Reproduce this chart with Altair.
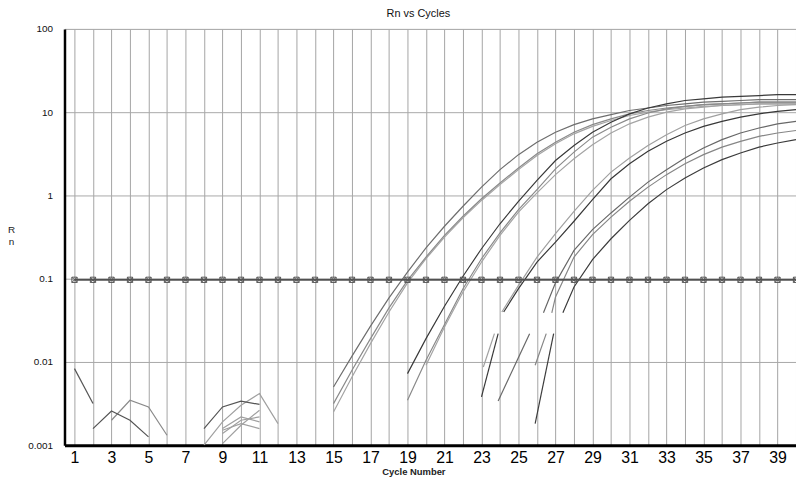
import altair as alt
import pandas as pd

# ---- data (log10 of Rn per cycle) ----
cyc_a = list(range(15, 41))
a1_log = [-2.30, -1.93, -1.57, -1.23, -0.92, -0.63, -0.37, -0.13, 0.10, 0.31, 0.49, 0.64, 0.76,
          0.85, 0.92, 0.97, 1.02, 1.05, 1.08, 1.10, 1.12, 1.13, 1.14, 1.15, 1.15, 1.15]
a2_log = [-2.50, -2.10, -1.72, -1.35, -1.02, -0.74, -0.48, -0.25, -0.04, 0.15, 0.33, 0.50, 0.64,
          0.76, 0.85, 0.92, 0.98, 1.02, 1.05, 1.07, 1.09, 1.10, 1.11, 1.12, 1.12, 1.12]
a3_log = [-2.60, -2.18, -1.78, -1.40, -1.05, -0.76, -0.50, -0.27, -0.06, 0.13, 0.31, 0.48, 0.62,
          0.74, 0.83, 0.90, 0.96, 1.00, 1.03, 1.05, 1.07, 1.08, 1.09, 1.10, 1.10, 1.10]

cyc_b12 = list(range(19, 41))
b1_log = [-2.14, -1.72, -1.33, -0.97, -0.64, -0.34, -0.07, 0.18, 0.42, 0.60, 0.76, 0.88, 0.98,
          1.05, 1.10, 1.14, 1.16, 1.18, 1.19, 1.20, 1.21, 1.21]
b2_log = [-2.46, -1.98, -1.55, -1.12, -0.76, -0.45, -0.17, 0.07, 0.32, 0.52, 0.70, 0.82, 0.92,
          0.99, 1.04, 1.07, 1.09, 1.10, 1.11, 1.12, 1.12, 1.12]
cyc_b3 = list(range(20, 41))
b3_log = [-2.04, -1.58, -1.16, -0.80, -0.48, -0.20, 0.03, 0.25, 0.44, 0.61, 0.75, 0.86, 0.94,
          1.00, 1.04, 1.06, 1.08, 1.09, 1.10, 1.10, 1.10]

c1_low_cyc = [23.0, 23.9]
c1_low_log = [-2.42, -1.66]
c1_cyc = [24.2] + list(range(25, 41))
c1_log = [-1.40, -1.12, -0.80, -0.56, -0.31, -0.05, 0.20, 0.38, 0.53, 0.65, 0.75, 0.83, 0.89,
          0.94, 0.98, 1.01, 1.03]
c2_low_cyc = [23.1, 23.7]
c2_low_log = [-2.06, -1.66]
c2_cyc = [24.1] + list(range(25, 41))
c2_log = [-1.40, -1.08, -0.74, -0.46, -0.19, 0.06, 0.28, 0.45, 0.60, 0.73, 0.84, 0.92, 0.98,
          1.03, 1.06, 1.08, 1.09]

d1_low_cyc = [23.9, 25.6]
d1_low_log = [-2.47, -1.66]
d1_cyc = [26.35] + list(range(27, 41))
d1_log = [-1.41, -1.05, -0.66, -0.41, -0.21, -0.02, 0.16, 0.31, 0.45, 0.57, 0.67, 0.75, 0.81,
          0.86, 0.89]
d2_low_cyc = [25.9, 26.5]
d2_low_log = [-2.04, -1.66]
d2_cyc = [26.8] + list(range(27, 41))
d2_log = [-1.41, -1.22, -0.74, -0.47, -0.26, -0.07, 0.10, 0.25, 0.38, 0.49, 0.58, 0.65, 0.71,
          0.75, 0.78]
d3_low_cyc = [25.9, 26.9]
d3_low_log = [-2.74, -1.66]
d3_cyc = [27.4] + list(range(28, 41))
d3_log = [-1.41, -1.10, -0.77, -0.52, -0.30, -0.10, 0.07, 0.21, 0.33, 0.43, 0.51, 0.58, 0.63,
          0.67]

# baseline noise traces
n1_cyc, n1_log = [1, 2], [-2.08, -2.50]
n2_cyc, n2_log = [2, 3, 4, 5], [-2.80, -2.59, -2.70, -2.90]
n3_cyc, n3_log = [3, 4, 5, 6], [-2.70, -2.46, -2.54, -2.88]
n4_cyc, n4_log = [8, 9, 10, 11], [-2.80, -2.54, -2.47, -2.51]
n5_cyc, n5_log = [8, 9, 10, 11, 12], [-3.00, -2.72, -2.52, -2.38, -2.74]
n6_cyc, n6_log = [9, 10, 11], [-2.98, -2.76, -2.58]
n7_cyc, n7_log = [9, 10, 11], [-2.86, -2.70, -2.66]
n8_cyc, n8_log = [9, 10, 11], [-2.80, -2.66, -2.72]
n9_cyc, n9_log = [9, 10, 11], [-2.82, -2.74, -2.80]

threshold_value = 0.097
threshold_cycles = list(range(1, 41))

x_tick_values = list(range(1, 41))
y_tick_values = [0.001, 0.01, 0.1, 1, 10, 100]

# ---- series table ----
series = [
    ("n6", n6_cyc, n6_log), ("n7", n7_cyc, n7_log), ("n8", n8_cyc, n8_log),
    ("n9", n9_cyc, n9_log), ("n5", n5_cyc, n5_log), ("n3", n3_cyc, n3_log),
    ("n1", n1_cyc, n1_log), ("n2", n2_cyc, n2_log), ("n4", n4_cyc, n4_log),
    ("a3", cyc_a, a3_log), ("a2", cyc_a, a2_log), ("a1", cyc_a, a1_log),
    ("b3", cyc_b3, b3_log), ("b2", cyc_b12, b2_log), ("b1", cyc_b12, b1_log),
    ("c2lo", c2_low_cyc, c2_low_log), ("c2", c2_cyc, c2_log),
    ("c1lo", c1_low_cyc, c1_low_log), ("c1", c1_cyc, c1_log),
    ("d2lo", d2_low_cyc, d2_low_log), ("d2", d2_cyc, d2_log),
    ("d1lo", d1_low_cyc, d1_low_log), ("d1", d1_cyc, d1_log),
    ("d3lo", d3_low_cyc, d3_low_log), ("d3", d3_cyc, d3_log),
]
style = {
    "n1": ("#555555", 1.6), "n2": ("#555555", 1.6), "n3": ("#8a8a8a", 1.3), "n4": ("#555555", 1.7),
    "n5": ("#a0a0a0", 1.2), "n6": ("#a0a0a0", 1.2), "n7": ("#a0a0a0", 1.2), "n8": ("#a0a0a0", 1.2),
    "n9": ("#a0a0a0", 1.2),
    "a1": ("#6e6e6e", 1.6), "a2": ("#8a8a8a", 1.5), "a3": ("#a4a4a4", 1.3),
    "b1": ("#3a3a3a", 2.1), "b2": ("#8a8a8a", 1.5), "b3": ("#a4a4a4", 1.4),
    "c1": ("#383838", 2.3), "c1lo": ("#383838", 2.2), "c2": ("#a0a0a0", 2.6), "c2lo": ("#a0a0a0", 1.6),
    "d1": ("#686868", 1.9), "d1lo": ("#686868", 1.6), "d2": ("#868686", 1.7), "d2lo": ("#868686", 1.4),
    "d3": ("#3c3c3c", 2.1), "d3lo": ("#3c3c3c", 2.0),
}

rows = []
for order, (sid, cycs, logs) in enumerate(series):
    for c, l in zip(cycs, logs):
        rows.append({"sid": sid, "ord": order, "cycle": c, "rn": 10 ** l})
df = pd.DataFrame(rows)
ids = [s[0] for s in series]

thr = pd.DataFrame({"cycle": threshold_cycles, "rn": [threshold_value] * len(threshold_cycles)})

x_scale = alt.Scale(domain=[0.46, 40.0], nice=False, zero=False)
y_scale = alt.Scale(type="log", domain=[0.001, 100], nice=False)

x_axis = alt.Axis(values=x_tick_values, tickCount=100, format="d",
                  labelExpr="datum.value % 2 == 1 ? datum.label : ''",
                  labelOverlap=False, labelFlush=False, labelBound=False,
                  labelFontSize=16, labelFont="Liberation Sans", labelColor="#000000",
                  labelPadding=4, ticks=False, tickSize=0, grid=True, gridColor="#a4a4a4",
                  gridWidth=1, domainColor="#000000", domainWidth=3, labelAngle=0,
                  title="Cycle Number", titleFont="Liberation Sans", titleFontSize=9.5,
                  titleFontWeight="bold", titleColor="#222222", titleX=352, titleY=27,
                  titleBaseline="middle", titleAlign="center")
y_axis = alt.Axis(values=y_tick_values, tickCount=20, format="~g", labelFontSize=10,
                  labelOverlap=False, labelFlush=False, labelBound=False,
                  labelFont="Liberation Sans", labelColor="#111111", labelPadding=12,
                  ticks=False, tickSize=0, grid=True, gridColor="#a8a8a8", gridWidth=1,
                  domainColor="#000000", domainWidth=2.5,
                  title=["R", "n"], titleAngle=0, titleFont="Liberation Sans",
                  titleFontSize=10, titleFontWeight="normal", titleColor="#222222",
                  titleX=-54, titleY=197, titleAlign="center", titleBaseline="top",
                  titleLineHeight=13)

lines = alt.Chart(df).mark_line(clip=True, interpolate="linear").encode(
    x=alt.X("cycle:Q", scale=x_scale, axis=x_axis),
    y=alt.Y("rn:Q", scale=y_scale, axis=y_axis),
    detail="sid:N",
    order="ord:Q",
    color=alt.Color("sid:N", scale=alt.Scale(domain=ids, range=[style[i][0] for i in ids]),
                    legend=None),
    strokeWidth=alt.StrokeWidth("sid:N", scale=alt.Scale(domain=ids,
                                range=[style[i][1] for i in ids]), legend=None),
)

thr_line = alt.Chart(thr).mark_line(color="#505050", strokeWidth=2, clip=True).encode(
    x=alt.X("cycle:Q", scale=x_scale),
    y=alt.Y("rn:Q", scale=y_scale),
)
thr_pts = alt.Chart(thr).mark_point(
    shape="M-1,-1H1V1H-1Z M-1,-1L1,1 M1,-1L-1,1", size=28, filled=False,
    color="#555555", strokeWidth=1, opacity=1, clip=True
).encode(
    x=alt.X("cycle:Q", scale=x_scale),
    y=alt.Y("rn:Q", scale=y_scale),
)

chart = alt.layer(lines, thr_line, thr_pts).properties(
    width=738, height=420,
    title=alt.TitleParams("Rn vs Cycles", font="Liberation Sans", fontSize=11,
                          fontWeight="normal", color="#111111", anchor="middle",
                          frame="group", baseline="alphabetic", dx=-12, dy=4, offset=0),
    padding={"left": 57, "top": 19, "right": 0, "bottom": 36},
    autosize=alt.AutoSizeParams(type="none"),
).configure_view(
    fill="#e6e6e6", stroke="#333333", strokeWidth=1.5
).configure(background="#ffffff")

chart.save("out.html", embed_options={"renderer": "svg", "actions": False})
